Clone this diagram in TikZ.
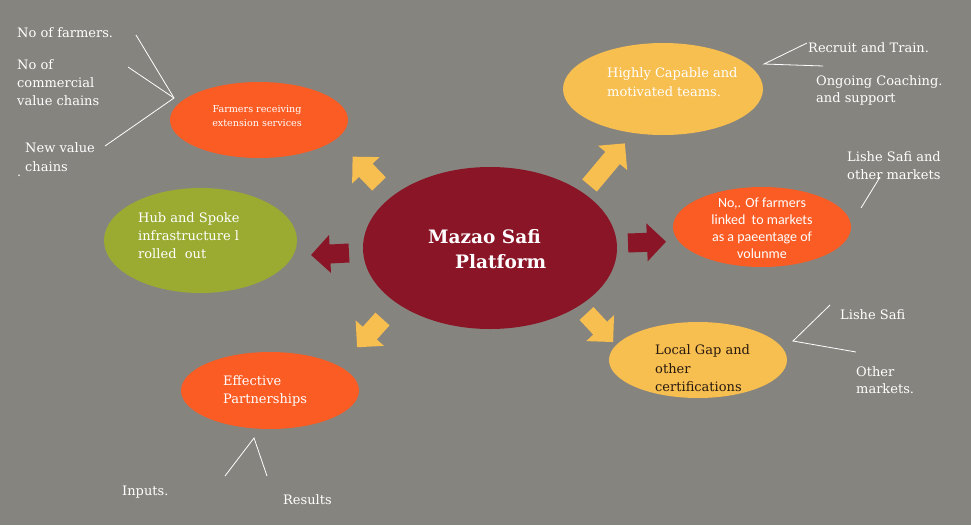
\documentclass[tikz,border=0pt]{standalone}
\usetikzlibrary{shapes.geometric}
\usepackage{fontspec}
\setmainfont{DejaVu Serif}
\newfontfamily\carl{Carlito}
\definecolor{bg}{RGB}{134,132,127}
\definecolor{wine}{RGB}{138,21,39}
\definecolor{flame}{RGB}{250,92,36}
\definecolor{gold}{RGB}{247,190,80}
\definecolor{olive}{RGB}{155,171,50}
\definecolor{darktxt}{RGB}{40,25,15}
% name, x, y, angle, colour, length
\newcommand{\barrow}[6]{%
  \begin{scope}[shift={(#2,#3)}, rotate=#4]
    \fill[#5] (0,-9.5) -- ({#6-19},-9.5) -- ({#6-19},-19) -- (#6,0) -- ({#6-19},19) -- ({#6-19},9.5) -- (0,9.5) -- cycle;
    \coordinate (#1) at ({#6/2},0);
  \end{scope}}
\begin{document}
\begin{tikzpicture}[x=1pt,y=-1pt,
  blob/.style={ellipse, inner sep=0pt},
  lbl/.style={text=white, anchor=west, align=left, inner sep=0pt, font=\fontsize{13}{18}\selectfont},
  conn/.style={white, line width=0.8pt}]
\useasboundingbox (0,0) rectangle (971,525);
\fill[bg] (0,0) rectangle (971,525);

% block arrows
\barrow{a1}{379}{184}{134}{gold}{38}
\barrow{a2}{589.5}{185.5}{50}{gold}{55}
\barrow{a3}{349}{253}{183}{wine}{38}
\barrow{a4}{628}{243}{2}{wine}{38}
\barrow{a5}{382.5}{319}{228}{gold}{38}
\barrow{a6}{586.5}{313.5}{313}{gold}{39}

% ellipses
\node[blob, fill=wine, minimum width=254pt, minimum height=162pt] (hub) at (490,248) {};
\node[blob, fill=flame, minimum width=178pt, minimum height=76pt] (ext) at (259,120) {};
\node[blob, fill=gold, minimum width=200pt, minimum height=92pt] (team) at (663,89) {};
\node[blob, fill=flame, minimum width=178pt, minimum height=80pt] (mkt) at (762,227) {};
\node[blob, fill=gold, minimum width=178pt, minimum height=76pt] (gap) at (698,360) {};
\node[blob, fill=olive, minimum width=193pt, minimum height=105pt] (spoke) at (200.5,240.5) {};
\node[blob, fill=flame, minimum width=178pt, minimum height=77pt] (part) at (270,390.5) {};

% texts in ellipses
\node[text=white, align=left, anchor=west, inner sep=0pt, font=\bfseries\fontsize{18.5}{25}\selectfont] (t-hub) at (428,249.5) {Mazao Safi\\\hspace{27pt}Platform};
\node[text=white, align=center, inner sep=0pt, font=\fontsize{9.6}{14}\selectfont] (t-ext) at (257,116) {Farmers receiving\\extension services};
\node[lbl, font=\fontsize{13}{19}\selectfont] (t-team) at (607,82.5) {Highly Capable and\\motivated teams.};
\node[text=white, align=center, inner sep=0pt, font=\carl\fontsize{14}{17}\selectfont] (t-mkt) at (762,228) {No,. Of farmers\\linked\ \ to markets\\as a paeentage of\\volunme};
\node[lbl, text=darktxt, font=\fontsize{13}{18.5}\selectfont] (t-gap) at (655,368.5) {Local Gap and\\other\\certifications};
\node[lbl] (t-spoke) at (138,236) {Hub and Spoke\\infrastructure l\\rolled\ \ out};
\node[lbl] (t-part) at (223,391) {Effective\\Partnerships};

% outer labels
\node[lbl] (l1) at (17,33) {No of farmers.};
\node[lbl] (l2) at (17,83) {No of\\commercial\\value chains};
\node[lbl, font=\fontsize{13}{19}\selectfont] (l3) at (25,157.5) {New value\\chains};
\node[lbl] (l3dot) at (17,176) {.};
\node[lbl] (l4) at (808,48) {Recruit and Train.};
\node[lbl, font=\fontsize{13}{17}\selectfont] (l5) at (816,90.5) {Ongoing Coaching.\\and support};
\node[lbl] (l6) at (847,166) {Lishe Safi and\\other markets};
\node[lbl] (l7) at (840,315) {Lishe Safi};
\node[lbl, font=\fontsize{13}{17}\selectfont] (l8) at (856,380.5) {Other\\markets.};
\node[lbl] (l9) at (122,492) {Inputs.};
\node[lbl] (l10) at (283,500) {Results};

% connector coordinates
\coordinate (p1) at (174,98);
\coordinate (p1a) at (136,35);
\coordinate (p1b) at (128,67);
\coordinate (p1c) at (105,146);
\coordinate (p2) at (764,64);
\coordinate (p2a) at (807,43);
\coordinate (p2b) at (823,66);
\coordinate (p3a) at (861,208);
\coordinate (p3b) at (880,177);
\coordinate (p4) at (793,341);
\coordinate (p4a) at (830,305);
\coordinate (p4b) at (856,352);
\coordinate (p5) at (254,438);
\coordinate (p5a) at (225,476);
\coordinate (p5b) at (267,476);

\draw[conn] (p1a) -- (p1) -- (p1c);
\draw[conn] (p1b) -- (p1);
\draw[conn] (p2a) -- (p2) -- (p2b);
\draw[conn] (p3a) -- (p3b);
\draw[conn] (p4a) -- (p4) -- (p4b);
\draw[conn] (p5a) -- (p5) -- (p5b);
\end{tikzpicture}
\end{document}
